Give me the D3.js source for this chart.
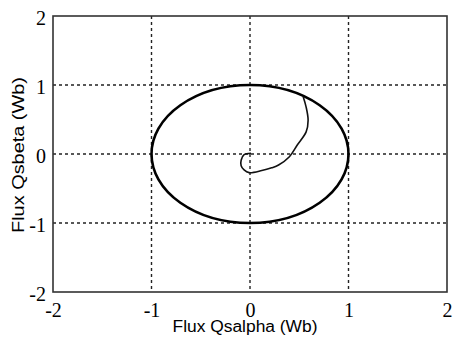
<!DOCTYPE html>
<html>
<head>
<meta charset="utf-8">
<script src="https://cdn.jsdelivr.net/npm/d3@7"></script>
<style>
  html, body { margin: 0; padding: 0; background: #fff; }
  svg { display: block; }
</style>
</head>
<body>
<svg id="chart" width="454" height="344"></svg>
<script>
// Axis ticks
const xTicks = [-2, -1, 0, 1, 2];
const yTicks = [-2, -1, 0, 1, 2];
const xTickLabels = ["-2", "-1", "0", "1", "2"];
const yTickLabels = ["-2", "-1", "0", "1", "2"];

// Stator flux trajectory during start-up (Wb)
const fluxAlpha = [0.01, -0.06, -0.09, -0.09, -0.06, -0.01, 0.12, 0.22, 0.29, 0.40, 0.48, 0.57, 0.59, 0.57, 0.54];
const fluxBeta  = [0.01, -0.01, -0.09, -0.17, -0.23, -0.27, -0.24, -0.20, -0.16, -0.04, 0.13, 0.32, 0.49, 0.68, 0.83];

// Steady-state flux circle radius (Wb)
const fluxRadius = 1;

const svg = d3.select("#chart");
const plotLeft = 53, plotRight = 447, plotTop = 16, plotBottom = 292;

const x = d3.scaleLinear().domain([-2, 2]).range([plotLeft, plotRight]);
const y = d3.scaleLinear().domain([-2, 2]).range([plotBottom, plotTop]);

// dotted grid
const grid = svg.append("g").attr("stroke", "#222").attr("stroke-width", 1.4)
  .attr("stroke-dasharray", "3,3");
grid.selectAll(".gx").data(xTicks.slice(1, -1)).enter().append("line")
  .attr("x1", d => x(d)).attr("x2", d => x(d))
  .attr("y1", plotTop).attr("y2", plotBottom);
grid.selectAll(".gy").data(yTicks.slice(1, -1)).enter().append("line")
  .attr("y1", d => y(d)).attr("y2", d => y(d))
  .attr("x1", plotLeft).attr("x2", plotRight);

// flux circle
svg.append("ellipse")
  .attr("cx", x(0)).attr("cy", y(0))
  .attr("rx", x(fluxRadius) - x(0)).attr("ry", y(0) - y(fluxRadius))
  .attr("fill", "none").attr("stroke", "#000").attr("stroke-width", 2.6);

// start-up trajectory
const pts = fluxAlpha.map((a, i) => [a, fluxBeta[i]]);
svg.append("path")
  .datum(pts)
  .attr("d", d3.line().x(d => x(d[0])).y(d => y(d[1])).curve(d3.curveCatmullRom))
  .attr("fill", "none").attr("stroke", "#111").attr("stroke-width", 1.6);

// frame
svg.append("rect")
  .attr("x", plotLeft).attr("y", plotTop)
  .attr("width", plotRight - plotLeft).attr("height", plotBottom - plotTop)
  .attr("fill", "none").attr("stroke", "#333").attr("stroke-width", 1.6);

// axes (tick labels only; frame drawn above)
const xAxis = d3.axisBottom(x).tickValues(xTicks).tickSize(0).tickPadding(0)
  .tickFormat((d, i) => xTickLabels[i]);
const yAxis = d3.axisLeft(y).tickValues(yTicks).tickSize(0).tickPadding(0)
  .tickFormat((d, i) => yTickLabels[i]);

const gx = svg.append("g").attr("transform", `translate(0,${plotBottom + 11})`).call(xAxis);
const gy = svg.append("g").attr("transform", `translate(${plotLeft - 7},2)`).call(yAxis);
[gx, gy].forEach(g => {
  g.select(".domain").remove();
  g.selectAll("text")
    .attr("font-family", "'Liberation Serif', 'DejaVu Serif', serif")
    .attr("font-size", 20).attr("fill", "#000");
});
gx.selectAll("text").attr("dy", "0.71em");

// axis titles
svg.append("text")
  .attr("x", 245).attr("y", 332)
  .attr("text-anchor", "middle")
  .attr("font-family", "'Liberation Sans', Arial, sans-serif")
  .attr("font-size", 16).attr("fill", "#000")
  .attr("textLength", 145).attr("lengthAdjust", "spacingAndGlyphs")
  .text("Flux Qsalpha (Wb)");

svg.append("text")
  .attr("transform", `translate(24,155) rotate(-90)`)
  .attr("text-anchor", "middle")
  .attr("font-family", "'Liberation Sans', Arial, sans-serif")
  .attr("font-size", 16).attr("fill", "#000")
  .attr("textLength", 156).attr("lengthAdjust", "spacingAndGlyphs")
  .text("Flux Qsbeta (Wb)");
</script>
</body>
</html>
